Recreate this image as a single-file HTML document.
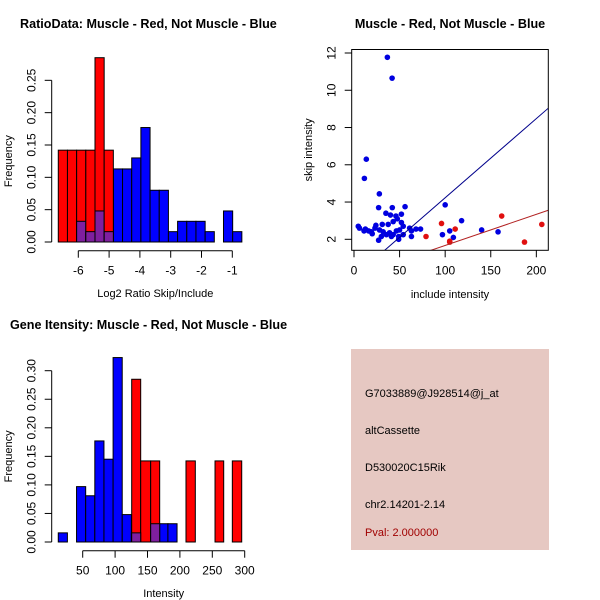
<!DOCTYPE html>
<html><head><meta charset="utf-8"><style>
html,body{margin:0;padding:0;background:#fff}
svg{display:block}
text{font-family:"Liberation Sans","DejaVu Sans",sans-serif;fill:#000}
</style></head><body>
<svg id="c" width="600" height="600" viewBox="0 0 600 600" xmlns="http://www.w3.org/2000/svg">
<text x="20" y="28" font-size="12.6" font-weight="bold">RatioData: Muscle - Red, Not Muscle - Blue</text>
<text x="450" y="28" font-size="12.6" font-weight="bold" text-anchor="middle">Muscle - Red, Not Muscle - Blue</text>
<text x="10" y="329" font-size="12.6" font-weight="bold">Gene Itensity: Muscle - Red, Not Muscle - Blue</text>
<g id="p1"></g>
<g id="p2"></g>
<g id="p3"></g>
<g>
<rect x="351" y="349" width="198" height="201" fill="#e6c8c2"/>
<text x="365" y="397" font-size="11">G7033889@J928514@j_at</text>
<text x="365" y="434" font-size="11">altCassette</text>
<text x="365" y="471" font-size="11">D530020C15Rik</text>
<text x="365" y="508" font-size="11">chr2.14201-2.14</text>
<text x="365" y="536" font-size="11" style="fill:#a00000">Pval: 2.000000</text>
</g>
</svg>
<script>
// ---- Ratio histogram data ----
const ratioBinStart = -6.65;
const ratioBinWidth = 0.298;
const ratioRed = [0.142,0.142,0.142,0.142,0.285,0.142];
const ratioBlue = [0,0,0.032,0.016,0.048,0.016,0.113,0.113,0.13,0.177,0.08,0.08,0.016,0.032,0.032,0.032,0.016,0,0.048,0.016];
const ratioXTicks = [-6,-5,-4,-3,-2,-1];
const ratioYTicks = [0,0.05,0.10,0.15,0.20,0.25];
const ratioYLabels = ["0.00","0.05","0.10","0.15","0.20","0.25"];
// ---- Intensity histogram data ----
const intBlueStart = 12.3;
const intBlueWidth = 14.1;
const intBlue = [0.016,0,0.097,0.081,0.177,0.145,0.323,0.048,0.016,0,0.032,0.032,0.032];
const intRedLeft = [125.6,139.5,154.9,209.4,254.2,280.9];
const intRedRight = [139.5,154.9,168.8,223.8,267.6,295.4];
const intRed = [0.285,0.142,0.142,0.142,0.142,0.142];
const intXTicks = [50,100,150,200,250,300];
const intYTicks = [0,0.05,0.10,0.15,0.20,0.25,0.30];
const intYLabels = ["0.00","0.05","0.10","0.15","0.20","0.25","0.30"];
// ---- Scatter data ----
const blueX = [36.6,41.8,13.5,11.4,27.8,27,42,56,100,35,40,46,52,47.5,118,43,52,31,37.5,54,4.7,6,24,23,12.5,16,11,19,20,28,32,35.5,39,43,46.5,50,49,49,27,54,61,63,63,68,73,97,105,109,140,158,30,41];
const blueY = [11.77,10.65,6.3,5.27,4.44,3.7,3.7,3.75,3.85,3.4,3.3,3.25,3.35,3.1,3.0,2.95,2.9,2.8,2.8,2.7,2.7,2.6,2.75,2.6,2.55,2.45,2.45,2.4,2.3,2.5,2.4,2.25,2.35,2.25,2.45,2.5,2.15,2.0,1.95,2.25,2.6,2.45,2.15,2.55,2.55,2.25,2.45,2.1,2.5,2.4,2.15,2.15];
const redX = [79,96,111,105,105,162,187,206];
const redY = [2.15,2.85,2.55,1.9,1.85,3.25,1.85,2.8];
const blueFit = [-0.02,0.0425];
const redFit = [0,0.0167];
const scXTicks = [0,50,100,150,200];
const scYTicks = [2,4,6,8,10,12];

const NS="http://www.w3.org/2000/svg";
function mk(parent,tag,attrs,txt){const e=document.createElementNS(NS,tag);for(const k in attrs)e.setAttribute(k,attrs[k]);if(txt!==undefined)e.textContent=txt;parent.appendChild(e);return e;}
const PURPLE="#7f1f9f";

function axes(g,sx,sy,xt,xl,yt,yl,xAxisY,yAxisX,xtitle,ytitle,xtitleY,ytitleX){
  const xa=mk(g,'g',{});
  
  
  mk(xa,'line',{x1:sx(xt[0]),x2:sx(xt[xt.length-1]),y1:xAxisY,y2:xAxisY,stroke:'#000'});
  xt.forEach((v,i)=>{mk(xa,'line',{x1:sx(v),x2:sx(v),y1:xAxisY,y2:xAxisY+7,stroke:'#000'});
    const t=mk(xa,'text',{x:sx(v),y:xAxisY+24,'font-size':12,'text-anchor':'middle'},xl[i]);
    
    });
  const ya=mk(g,'g',{});
  
  
  mk(ya,'line',{x1:yAxisX,x2:yAxisX,y1:sy(yt[0]),y2:sy(yt[yt.length-1]),stroke:'#000'});
  yt.forEach((v,i)=>{mk(ya,'line',{x1:yAxisX,x2:yAxisX-7,y1:sy(v),y2:sy(v),stroke:'#000'});
    const x=yAxisX-16,y=sy(v);
    const t=mk(ya,'text',{x:x,y:y,'font-size':12,'text-anchor':'middle',transform:`rotate(-90 ${x} ${y})`},yl[i]);
    
    });
  const xtt=mk(g,'text',{x:(sx(xt[0])+sx(xt[xt.length-1]))/2,y:xtitleY,'font-size':11,'text-anchor':'middle'},xtitle);
  
  
  const cy=(sy(yt[0])+sy(yt[yt.length-1]))/2;
  const ytt=mk(g,'text',{x:ytitleX,y:cy,'font-size':11,'text-anchor':'middle',transform:`rotate(-90 ${ytitleX} ${cy})`},ytitle);
  
  
}
function bar(g,x0,x1,y0,y1,fill,name){const r=mk(g,'rect',{x:x0,y:y1,width:x1-x0,height:y0-y1,fill:fill,stroke:'#000','stroke-width':1});
  
  }

// Plot 1
(function(){
  const g=document.getElementById('p1');
  const sx=v=>78.3+(v+6)*30.8, sy=v=>242-v*646.7;
  ratioBlue.forEach((h,i)=>{if(h>0){const a=ratioBinStart+i*ratioBinWidth;bar(g,sx(a),sx(a+ratioBinWidth),sy(0),sy(h),'#0000ff','blue-bar');}});
  ratioRed.forEach((h,i)=>{const a=ratioBinStart+i*ratioBinWidth;bar(g,sx(a),sx(a+ratioBinWidth),sy(0),sy(h),'#ff0000','red-bar');
    const b=ratioBlue[i]||0; if(b>0) bar(g,sx(a),sx(a+ratioBinWidth),sy(0),sy(Math.min(b,h)),PURPLE,'overlap-bar');});
  axes(g,sx,sy,ratioXTicks,ratioXTicks.map(String),ratioYTicks,ratioYLabels,250.7,51.7,'Log2 Ratio Skip/Include','Frequency',297,12);
})();

// Plot 2
(function(){
  const g=document.getElementById('p2');
  const sx=v=>82.7+(v-50)*0.648, sy=v=>542-v*571;
  intBlue.forEach((h,i)=>{if(h>0){const a=intBlueStart+i*intBlueWidth;bar(g,sx(a),sx(a+intBlueWidth),sy(0),sy(h),'#0000ff','blue-bar');}});
  intRed.forEach((h,j)=>{bar(g,sx(intRedLeft[j]),sx(intRedRight[j]),sy(0),sy(h),'#ff0000','red-bar');});
  intBlue.forEach((h,i)=>{if(h<=0)return;const a=intBlueStart+i*intBlueWidth,c=a+intBlueWidth/2;
    intRed.forEach((r,j)=>{if(c>intRedLeft[j]&&c<intRedRight[j])bar(g,sx(intRedLeft[j]),sx(intRedRight[j]),sy(0),sy(Math.min(h,r)),PURPLE,'overlap-bar');});});
  axes(g,sx,sy,intXTicks,intXTicks.map(String),intYTicks,intYLabels,550.7,51.7,'Intensity','Frequency',597,12);
})();

// Plot 3
(function(){
  const g=document.getElementById('p3');
  const L=351.7,R=548.3,T=49.5,B=250.3;
  const sx=v=>354+v*0.9117, sy=v=>239.3-(v-2)*18.63;
  const xmin=(L-354)/0.9117, xmax=(R-354)/0.9117;
  const cp=mk(g,'clipPath',{id:'clip3'});mk(cp,'rect',{x:L,y:T,width:R-L,height:B-T});
  const inner=mk(g,'g',{'clip-path':'url(#clip3)'});
  blueX.forEach((x,i)=>{const c=mk(inner,'circle',{cx:sx(x),cy:sy(blueY[i]),r:2.8,fill:'#0000e0'});
    
    });
  redX.forEach((x,i)=>{const c=mk(inner,'circle',{cx:sx(x),cy:sy(redY[i]),r:2.8,fill:'#e01010'});
    
    });
  const bl=mk(inner,'line',{x1:sx(xmin),y1:sy(blueFit[0]+blueFit[1]*xmin),x2:sx(xmax),y2:sy(blueFit[0]+blueFit[1]*xmax),stroke:'#00008b','stroke-width':1});
  
  
  const rl=mk(inner,'line',{x1:sx(xmin),y1:sy(redFit[0]+redFit[1]*xmin),x2:sx(xmax),y2:sy(redFit[0]+redFit[1]*xmax),stroke:'#b22222','stroke-width':1});
  
  
  const box=mk(g,'rect',{x:L,y:T,width:R-L,height:B-T,fill:'none',stroke:'#000'});
  
  
  const xa=mk(g,'g',{});
  
  
  scXTicks.forEach(v=>{mk(xa,'line',{x1:sx(v),x2:sx(v),y1:B,y2:B+7,stroke:'#000'});
    const t=mk(xa,'text',{x:sx(v),y:B+24,'font-size':12,'text-anchor':'middle'},String(v));
    
    });
  const ya=mk(g,'g',{});
  
  
  scYTicks.forEach(v=>{mk(ya,'line',{x1:L,x2:L-7,y1:sy(v),y2:sy(v),stroke:'#000'});
    const x=L-16,y=sy(v);
    const t=mk(ya,'text',{x:x,y:y,'font-size':12,'text-anchor':'middle',transform:`rotate(-90 ${x} ${y})`},String(v));
    
    });
  const xt=mk(g,'text',{x:(L+R)/2,y:298,'font-size':11,'text-anchor':'middle'},'include intensity');
  
  
  const cy=(T+B)/2;
  const yt=mk(g,'text',{x:312,y:cy,'font-size':11,'text-anchor':'middle',transform:`rotate(-90 312 ${cy})`},'skip intensity');
  
  
})();
</script>
</body></html>
